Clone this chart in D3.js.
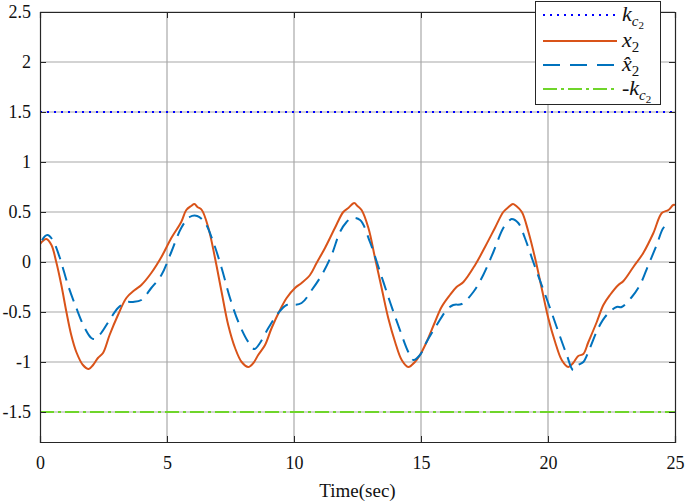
<!DOCTYPE html>
<html>
<head>
<meta charset="utf-8">
<script src="https://cdn.jsdelivr.net/npm/d3@7"></script>
<style>
  body { margin: 0; background: #fff; }
  text { font-family: "Liberation Serif", "Times New Roman", serif; }
</style>
</head>
<body>
<svg id="chart" width="685" height="503"></svg>
<script>
// Data
const timeX = [0,0.25,0.45,0.64,0.84,1.04,1.23,1.43,1.69,1.92,2.09,2.28,2.48,2.74,3.07,3.40,3.73,3.99,4.38,4.78,5.17,5.56,5.76,5.95,6.08,6.2,6.37,6.63,6.89,7.15,7.41,7.68,7.94,8.20,8.40,8.59,8.86,9.12,9.45,9.71,10.04,10.30,10.63,10.89,11.22,11.61,11.94,12.14,12.37,12.5,12.66,12.93,13.19,13.45,13.71,13.98,14.24,14.50,14.76,14.96,15.22,15.55,15.81,16.14,16.40,16.67,17.13,17.52,17.91,18.24,18.45,18.62,18.75,18.97,19.23,19.49,19.75,20.01,20.28,20.54,20.80,20.99,21.19,21.39,21.59,21.92,22.18,22.44,22.77,22.97,23.36,23.75,24.15,24.48,24.74,24.93,25];
const x2Vals = [0.18,0.23,0.17,0.0,-0.23,-0.5,-0.73,-0.9,-1.03,-1.07,-1.03,-0.96,-0.91,-0.73,-0.53,-0.36,-0.28,-0.23,-0.11,0.05,0.24,0.40,0.52,0.56,0.58,0.55,0.52,0.34,0.04,-0.30,-0.63,-0.86,-1.0,-1.05,-1.01,-0.93,-0.83,-0.66,-0.48,-0.36,-0.26,-0.21,-0.13,-0.01,0.14,0.34,0.50,0.54,0.59,0.56,0.52,0.34,0.04,-0.26,-0.56,-0.80,-0.98,-1.05,-1.0,-0.93,-0.80,-0.60,-0.45,-0.33,-0.25,-0.20,-0.03,0.15,0.34,0.50,0.55,0.58,0.56,0.50,0.30,0.04,-0.26,-0.56,-0.80,-0.98,-1.05,-1.01,-0.94,-0.92,-0.80,-0.60,-0.43,-0.33,-0.23,-0.19,-0.05,0.09,0.29,0.49,0.52,0.57,0.57];

const timeHat = [0,0.05,0.29,0.5,0.77,1.1,1.43,1.76,2.02,2.18,2.41,2.74,3.07,3.40,3.66,3.99,4.38,4.78,5.17,5.56,5.89,6.19,6.50,6.82,7.15,7.48,7.81,8.20,8.44,8.66,8.99,9.38,9.71,9.91,10.30,10.70,11.09,11.48,11.81,12.07,12.27,12.60,12.99,13.39,13.78,14.17,14.50,14.70,14.96,15.22,15.62,16.01,16.27,16.60,17.06,17.45,17.85,18.24,18.50,18.57,18.83,19.09,19.42,19.75,20.08,20.41,20.74,20.99,21.19,21.39,21.65,21.98,22.31,22.70,22.90,23.30,23.62,23.95,24.28,24.54,24.78];
const x2HatVals = [0,0.2,0.27,0.22,0.05,-0.23,-0.46,-0.66,-0.76,-0.77,-0.71,-0.58,-0.46,-0.40,-0.40,-0.38,-0.26,-0.13,0.10,0.34,0.45,0.46,0.39,0.20,-0.06,-0.36,-0.60,-0.80,-0.87,-0.81,-0.66,-0.51,-0.43,-0.43,-0.41,-0.28,-0.13,0.07,0.30,0.40,0.44,0.42,0.20,-0.10,-0.40,-0.68,-0.90,-0.98,-0.93,-0.80,-0.63,-0.48,-0.43,-0.42,-0.30,-0.13,0.10,0.34,0.42,0.43,0.39,0.24,0.0,-0.23,-0.46,-0.70,-0.93,-1.08,-1.03,-1.0,-0.86,-0.66,-0.53,-0.45,-0.45,-0.35,-0.23,-0.03,0.17,0.34,0.39];

const kc2 = 1.5;
const xTicks = [0, 5, 10, 15, 20, 25];
const yTicks = [-1.5, -1, -0.5, 0, 0.5, 1, 1.5, 2, 2.5];

const width = 685, height = 503;
const margin = { top: 12, right: 10, bottom: 61, left: 40 };
const innerWidth = width - margin.left - margin.right;
const innerHeight = height - margin.top - margin.bottom;
const serif = "'Liberation Serif', 'Times New Roman', serif";

const orange = "#D95319", blue = "#0072BD", dotBlue = "#0000FF", green = "#6FD52A";

const svg = d3.select("#chart");
const inner = svg.append("g").attr("transform", `translate(${margin.left},${margin.top})`);

const xScale = d3.scaleLinear().domain([0, 25]).range([0, innerWidth]);
const yScale = d3.scaleLinear().domain([-1.8, 2.5]).range([innerHeight, 0]);

// Grid
inner.append("g").selectAll("line").data(xTicks.slice(1, -1)).join("line")
    .attr("x1", d => xScale(d)).attr("x2", d => xScale(d))
    .attr("y1", 0).attr("y2", innerHeight)
    .attr("stroke", "#a8a8a8").attr("stroke-width", 1.2);
inner.append("g").selectAll("line").data(yTicks).join("line")
    .attr("x1", 0).attr("x2", innerWidth)
    .attr("y1", d => yScale(d)).attr("y2", d => yScale(d))
    .attr("stroke", "#a8a8a8").attr("stroke-width", 1.2);

// Lines
inner.append("clipPath").attr("id", "clip")
    .append("rect").attr("width", innerWidth).attr("height", innerHeight);
const plot = inner.append("g").attr("clip-path", "url(#clip)");

const lineGen = d3.line()
    .x(d => xScale(d[0])).y(d => yScale(d[1]))
    .curve(d3.curveCatmullRom.alpha(0.5));

plot.append("line")
    .attr("x1", xScale(0)).attr("x2", xScale(25))
    .attr("y1", yScale(kc2)).attr("y2", yScale(kc2))
    .attr("stroke", dotBlue).attr("stroke-width", 2)
    .attr("stroke-dasharray", "2,5");

plot.append("path")
    .datum(timeX.map((t, i) => [t, x2Vals[i]]))
    .attr("d", lineGen)
    .attr("fill", "none").attr("stroke", orange).attr("stroke-width", 2);

plot.append("path")
    .datum(timeHat.map((t, i) => [t, x2HatVals[i]]))
    .attr("d", lineGen)
    .attr("fill", "none").attr("stroke", blue).attr("stroke-width", 2)
    .attr("stroke-dasharray", "14,8");

plot.append("line")
    .attr("x1", xScale(0)).attr("x2", xScale(25))
    .attr("y1", yScale(-kc2)).attr("y2", yScale(-kc2))
    .attr("stroke", green).attr("stroke-width", 2)
    .attr("stroke-dasharray", "14,4,3,4");

// Axes (ticks inward, on all sides)
const fmt = d => String(d);
const bottomAxis = d3.axisBottom(xScale).tickValues(xTicks).tickSize(-6).tickPadding(14).tickFormat(fmt);
const leftAxis = d3.axisLeft(yScale).tickValues(yTicks).tickSize(-6).tickPadding(9).tickFormat(fmt);

const gx = inner.append("g").attr("transform", `translate(0,${innerHeight})`).call(bottomAxis);
const gy = inner.append("g").call(leftAxis);
inner.append("g").call(d3.axisTop(xScale).tickValues(xTicks).tickSize(-6).tickFormat(""));
inner.append("g").attr("transform", `translate(${innerWidth},0)`)
    .call(d3.axisRight(yScale).tickValues(yTicks).tickSize(-6).tickFormat(""));

inner.selectAll(".domain").attr("stroke", "#262626").attr("stroke-width", 1.2);
inner.selectAll(".tick line").attr("stroke", "#262626");
[gx, gy].forEach(g => {
    g.attr("font-family", serif).attr("font-size", 18);
    g.selectAll("text").attr("fill", "#111");
});

// Axis label
svg.append("text")
    .attr("x", margin.left + innerWidth / 2).attr("y", 497)
    .attr("text-anchor", "middle")
    .attr("font-family", serif)
    .style("font-size", "19px").attr("fill", "#111")
    .text("Time(sec)");

// Legend
const legend = svg.append("g").attr("font-family", serif);
legend.append("rect")
    .attr("x", 535.5).attr("y", 1.5).attr("width", 125).attr("height", 103)
    .attr("fill", "#fff").attr("stroke", "#262626").attr("stroke-width", 1);

const items = [
    { color: dotBlue, dash: "2,5", pre: "", main: "k", sub: "c", sub2: "2" },
    { color: orange, dash: null, pre: "", main: "x", sub: "2", sub2: null },
    { color: blue, dash: "17,10", pre: "", main: "x\u0302", sub: "2", sub2: null },
    { color: green, dash: "14,4,3,4", pre: "-", main: "k", sub: "c", sub2: "2" }
];
const legendY = [15, 41, 65, 89];

items.forEach((d, i) => {
    const y = legendY[i];
    legend.append("line")
        .attr("x1", 543).attr("x2", 617).attr("y1", y).attr("y2", y)
        .attr("stroke", d.color).attr("stroke-width", 2)
        .attr("stroke-dasharray", d.dash);
    const t = legend.append("text").attr("x", 622).attr("y", y + 6)
        .style("font-size", "22px").attr("fill", "#111");
    if (d.pre) t.append("tspan").text(d.pre);
    t.append("tspan").style("font-style", "italic").text(d.main);
    t.append("tspan").attr("dy", 5).style("font-size", "15px")
        .style("font-style", d.sub === "c" ? "italic" : "normal").text(d.sub);
    if (d.sub2) t.append("tspan").attr("dy", 3).style("font-size", "11px").text(d.sub2);
});
</script>
</body>
</html>
